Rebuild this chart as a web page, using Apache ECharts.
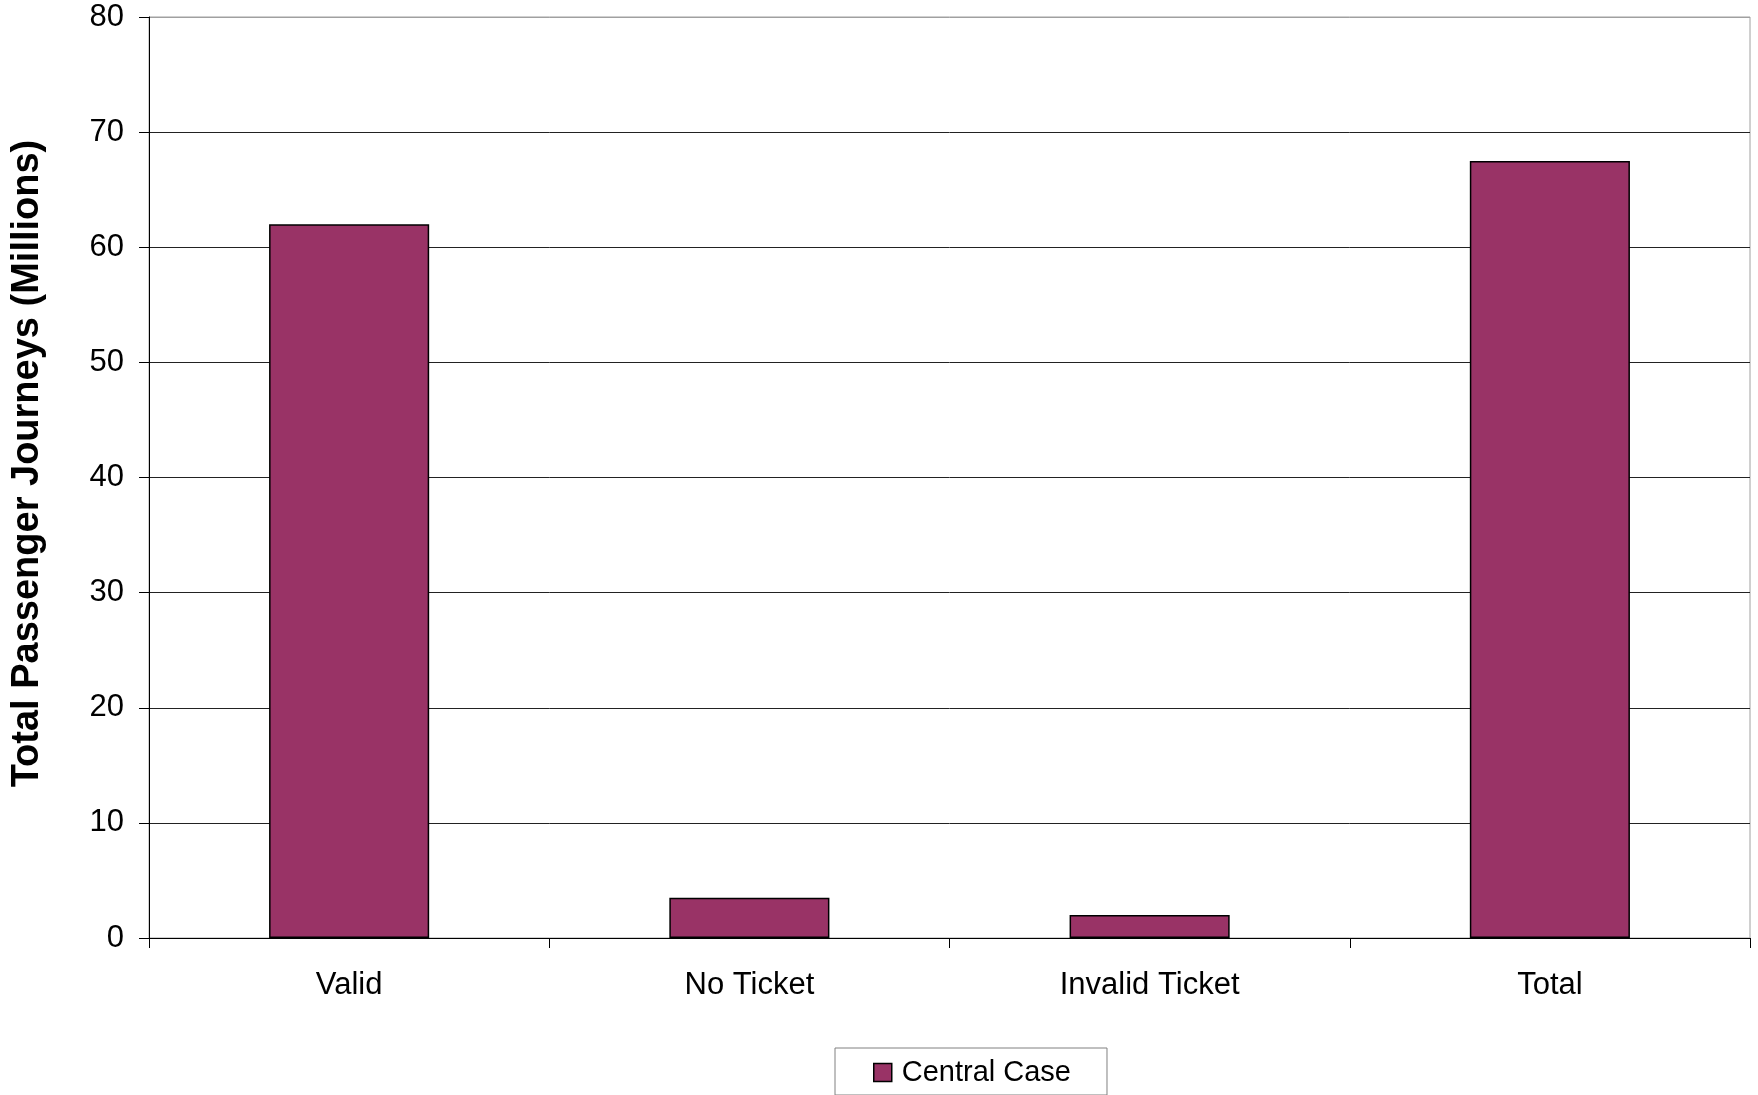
<!DOCTYPE html>
<html>
<head>
<meta charset="utf-8">
<script src="https://cdn.jsdelivr.net/npm/echarts@6/dist/echarts.min.js"></script>
<style>
html,body{margin:0;padding:0;background:#fff;}
#c{width:1758px;height:1095px;}
</style>
</head>
<body>
<div id="c"></div>
<script>
const categories = ['Valid', 'No Ticket', 'Invalid Ticket', 'Total'];
const centralCase = [62.0, 3.5, 2.0, 67.5];
const seriesName = 'Central Case';
const yAxisTitle = 'Total Passenger Journeys (Millions)';

const FONT = '"Liberation Sans", Arial, sans-serif';
const chart = echarts.init(document.getElementById('c'));
chart.setOption({
  backgroundColor: '#fff',
  animation: false,
  grid: {
    left: 149, right: 8, top: 17, bottom: 157,
    show: true, borderColor: '#a0a0a0', borderWidth: 1
  },
  legend: {
    data: [seriesName],
    left: 835, top: 1048,
    orient: 'horizontal',
    itemWidth: 18, itemHeight: 18,
    padding: [8, 36, 6, 38],
    borderColor: '#808080', borderWidth: 1,
    icon: 'rect',
    itemStyle: { borderColor: '#000', borderWidth: 1.5 },
    textStyle: { fontFamily: FONT, fontSize: 29, color: '#000', padding: [2, 0, 0, 5], lineHeight: 31 }
  },
  xAxis: {
    type: 'category',
    data: categories,
    axisLine: { lineStyle: { color: '#000', width: 1 } },
    axisTick: { show: true, length: 10, alignWithLabel: false, lineStyle: { color: '#000' } },
    axisLabel: { fontFamily: FONT, fontSize: 31, color: '#000', margin: 32 },
    splitLine: { show: false }
  },
  yAxis: {
    type: 'value',
    min: 0, max: 80, interval: 10,
    name: yAxisTitle,
    nameLocation: 'middle',
    nameGap: 102,
    nameTextStyle: { fontFamily: FONT, fontSize: 38, fontWeight: 'bold', color: '#000', padding: [0, 0, 0, 28] },
    axisLine: { show: true, lineStyle: { color: '#000', width: 1 } },
    axisTick: { show: true, length: 10, lineStyle: { color: '#000' } },
    axisLabel: { fontFamily: FONT, fontSize: 31, color: '#000', margin: 25 },
    splitLine: { show: true, lineStyle: { color: ['#222','#222','#222','#222','#222','#222','#222','#222','#a0a0a0'], width: 1 } }
  },
  series: [{
    name: seriesName,
    type: 'bar',
    data: centralCase,
    barWidth: '40%',
    itemStyle: { color: '#993366', borderColor: '#000', borderWidth: 1.5 }
  }]
});
</script>
</body>
</html>
